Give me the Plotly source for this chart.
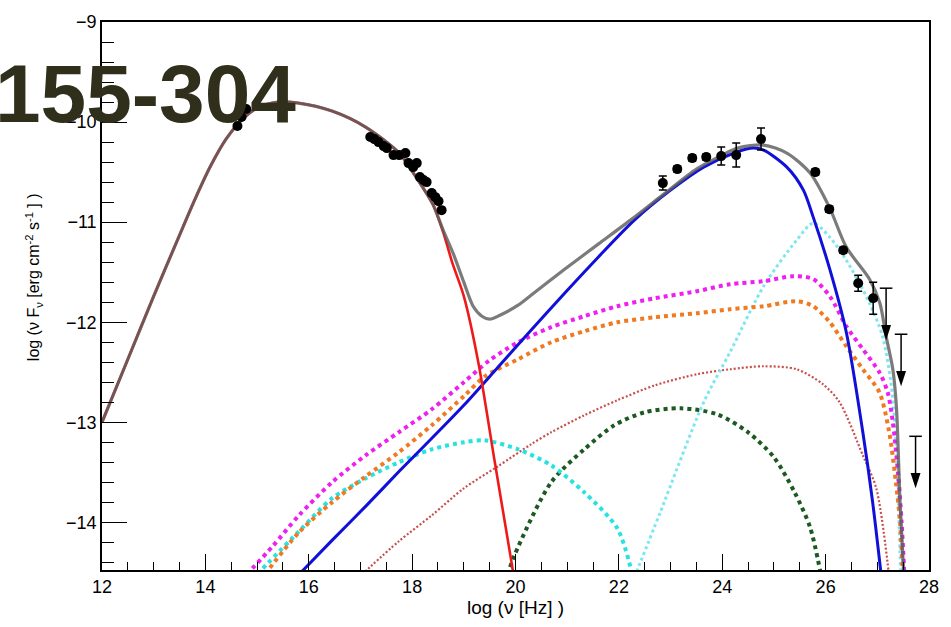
import plotly.graph_objects as go

# ---------------- data ----------------
# synchrotron component
sync_x = [12.0, 12.5, 13.0, 13.5, 13.8, 14.1, 14.4, 14.7, 15.0, 15.4, 15.8, 16.45, 17.1, 17.75,
          18.05, 18.4, 18.6, 18.78, 19.0, 19.28, 19.6, 19.92, 20.0]
sync_y = [-13.0, -12.37, -11.74, -11.13, -10.77, -10.44, -10.17, -9.98, -9.86, -9.80, -9.81, -9.89,
          -10.05, -10.31, -10.53, -10.82, -11.1, -11.41, -11.74, -12.40, -13.4, -14.39, -14.65]

# total model
total_x = [12.0, 12.5, 13.0, 13.5, 13.8, 14.1, 14.4, 14.7, 15.0, 15.4, 15.8, 16.45, 17.1, 17.75,
           18.05, 18.4, 18.6, 18.8, 19.0, 19.18, 19.35, 19.5, 19.7, 20.05, 20.3, 20.95, 21.6,
           22.25, 22.87, 23.5, 24.0, 24.3, 24.8, 25.25, 25.7, 26.08, 26.4, 26.85, 27.05, 27.17,
           27.3, 27.37, 27.44, 27.52]
total_y = [-13.0, -12.37, -11.74, -11.13, -10.77, -10.44, -10.17, -9.98, -9.86, -9.80, -9.81,
           -9.89, -10.05, -10.31, -10.53, -10.82, -11.08, -11.32, -11.6, -11.84, -11.94, -11.97,
           -11.93, -11.83, -11.73, -11.47, -11.22, -10.97, -10.72, -10.47, -10.33, -10.26, -10.23,
           -10.31, -10.51, -10.86, -11.25, -11.57, -11.81, -12.14, -12.47, -12.85, -13.8, -14.6]

# SSC component (blue)
ssc_x = [15.85, 16.45, 17.1, 17.75, 18.4, 19.0, 19.66, 20.3, 20.95, 21.6, 22.3, 23.0, 23.64,
         24.28, 24.6, 24.8, 25.25, 25.57, 25.76, 26.08, 26.4, 26.72, 26.91, 27.08]
ssc_y = [-14.5, -14.18, -13.84, -13.49, -13.15, -12.83, -12.45, -12.08, -11.71, -11.35, -10.98,
         -10.68, -10.45, -10.30, -10.26, -10.28, -10.45, -10.68, -10.95, -11.47, -12.1, -13.1,
         -13.80, -14.55]

# magenta dotted component
mag_x = [14.8, 15.3, 15.81, 16.45, 17.1, 17.74, 18.38, 19.0, 19.5, 20.05, 20.69, 21.33, 21.97,
         22.7, 23.51, 24.15, 24.8, 25.38, 25.76, 26.08, 26.4, 26.72, 27.04, 27.2, 27.3, 27.4,
         27.47, 27.53]
mag_y = [-14.52, -14.24, -13.93, -13.60, -13.33, -13.10, -12.87, -12.6, -12.38, -12.2, -12.05,
         -11.94, -11.84, -11.76, -11.69, -11.62, -11.59, -11.54, -11.57, -11.74, -12.04, -12.27,
         -12.5, -12.7, -13.0, -13.5, -14.0, -14.6]

# orange dotted component
org_x = [15.15, 15.81, 16.45, 17.1, 17.74, 18.38, 19.02, 19.41, 20.05, 20.69, 21.33, 21.97, 22.7,
         23.51, 24.15, 24.8, 25.44, 25.76, 26.08, 26.4, 26.72, 27.04, 27.23, 27.36, 27.44, 27.5]
org_y = [-14.52, -14.1, -13.80, -13.54, -13.30, -13.03, -12.73, -12.54, -12.37, -12.20, -12.09,
         -12.0, -11.95, -11.91, -11.87, -11.84, -11.79, -11.84, -12.0, -12.24, -12.47, -12.70,
         -13.1, -13.6, -14.0, -14.6]

# cyan dotted bump (low energy)
cyl_x = [15.0, 15.81, 16.45, 17.1, 17.74, 18.38, 19.0, 19.4, 20.05, 20.69, 21.33, 21.97, 22.25]
cyl_y = [-14.52, -14.09, -13.76, -13.56, -13.40, -13.27, -13.20, -13.18, -13.27, -13.43, -13.70,
         -14.06, -14.5]

# light cyan dotted component (high energy)
cyh_x = [22.3, 22.8, 23.64, 24.15, 24.8, 25.44, 25.76, 26.08, 26.4, 26.85, 27.1, 27.27, 27.36, 27.45]
cyh_y = [-14.55, -13.9, -12.80, -12.30, -11.64, -11.18, -11.01, -11.15, -11.38, -11.81, -12.14,
         -12.63, -13.2, -14.5]

# thin red-brown dotted component
brn_x = [17.03, 17.74, 18.38, 19.0, 19.66, 20.3, 20.69, 21.33, 21.97, 22.7, 23.51, 24.15, 24.8,
         25.44, 25.95, 26.27, 26.72, 26.98, 27.22]
brn_y = [-14.52, -14.19, -13.93, -13.66, -13.44, -13.22, -13.1, -12.93, -12.78, -12.63, -12.52,
         -12.47, -12.44, -12.47, -12.62, -12.80, -13.33, -13.66, -14.5]

# dark green dotted component
grn_x = [19.8, 19.98, 20.69, 21.33, 21.91, 22.5, 23.2, 23.9, 24.5, 25.0, 25.4, 25.7, 25.9]
grn_y = [-14.6, -14.33, -13.60, -13.27, -13.03, -12.9, -12.86, -12.92, -13.1, -13.35, -13.7,
         -14.05, -14.5]

# observed points
opt_x = [14.62, 14.70, 14.79]
opt_y = [-10.04, -9.95, -9.87]

xray_x = [17.19, 17.27, 17.35, 17.45, 17.51, 17.64, 17.75, 17.87, 17.93, 18.02, 18.09, 18.15,
          18.22, 18.28, 18.38, 18.45, 18.51, 18.57]
xray_y = [-10.15, -10.17, -10.20, -10.24, -10.26, -10.33, -10.33, -10.31, -10.41, -10.45, -10.41,
          -10.55, -10.58, -10.60, -10.71, -10.75, -10.79, -10.88]

fermi_x = [22.85, 23.13, 23.42, 23.69, 23.98, 24.27, 24.75]
fermi_y = [-10.61, -10.47, -10.36, -10.35, -10.34, -10.33, -10.17]
fermi_err = [0.07, 0.03, 0.03, 0.03, 0.09, 0.12, 0.11]

hess_x = [25.80, 26.07, 26.34, 26.63, 26.92]
hess_y = [-10.50, -10.87, -11.28, -11.61, -11.76]
hess_err = [0.03, 0.03, 0.03, 0.08, 0.16]

ul_x = [27.17, 27.46, 27.74]
ul_y = [-11.66, -12.12, -13.14]
UL_LEN = 0.52

x_ticks = [12, 14, 16, 18, 20, 22, 24, 26, 28]
y_ticks = [-14, -13, -12, -11, -10, -9]

FONT = "Liberation Sans, Arial, Helvetica, sans-serif"

fig = go.Figure()


def curve(x, y, color, width, dash="solid", opacity=1.0):
    fig.add_trace(go.Scatter(x=x, y=y, mode="lines", opacity=opacity,
                             line=dict(color=color, width=width, dash=dash,
                                       shape="spline", smoothing=0.8),
                             hoverinfo="skip", showlegend=False))


curve(brn_x, brn_y, "#c8504c", 2.2, "2px,2px")
curve(grn_x, grn_y, "#1d5a22", 4, "dot")
curve(cyl_x, cyl_y, "#28e2e2", 4, "dot")
curve(cyh_x, cyh_y, "#7ee6f0", 3, "dot")
curve(org_x, org_y, "#f07a22", 4, "dot")
curve(mag_x, mag_y, "#ee1ff0", 4, "dot")
curve(ssc_x, ssc_y, "#1010d8", 3)
curve(sync_x, sync_y, "#ee1a1a", 2.6)
curve(total_x, total_y, "#5f5f5f", 3.2, opacity=0.82)

# data points
marker = dict(color="black", size=10, symbol="circle")
fig.add_trace(go.Scatter(x=opt_x, y=opt_y, mode="markers", marker=marker, showlegend=False))
fig.add_trace(go.Scatter(x=xray_x, y=xray_y, mode="markers", marker=marker, showlegend=False))
fig.add_trace(go.Scatter(x=fermi_x, y=fermi_y, mode="markers", marker=marker, showlegend=False,
                         error_y=dict(type="data", array=fermi_err, color="black",
                                      thickness=1.5, width=4)))
fig.add_trace(go.Scatter(x=hess_x, y=hess_y, mode="markers", marker=marker, showlegend=False,
                         error_y=dict(type="data", array=hess_err, color="black",
                                      thickness=1.5, width=4)))

# upper limits: cap, shaft, arrow head
tip_y = [v - UL_LEN for v in ul_y]
shaft_x, shaft_y = [], []
for xv, yv, tv in zip(ul_x, ul_y, tip_y):
    shaft_x += [xv, xv, None]
    shaft_y += [yv, tv + 0.05, None]
fig.add_trace(go.Scatter(x=shaft_x, y=shaft_y, mode="lines",
                         line=dict(color="black", width=1.5), showlegend=False))
fig.add_trace(go.Scatter(x=ul_x, y=ul_y, mode="markers",
                         marker=dict(symbol="line-ew", size=9,
                                     line=dict(color="black", width=1.5)),
                         showlegend=False))
fig.add_trace(go.Scatter(x=ul_x, y=tip_y, mode="markers",
                         marker=dict(symbol="arrow", angle=180, size=16, color="black"),
                         showlegend=False))

axis_common = dict(showgrid=False, zeroline=False, showline=True, linecolor="black",
                   linewidth=1.5, mirror=True, ticks="inside", tickcolor="black",
                   tickwidth=1.2, tickfont=dict(family=FONT, size=18, color="black"))

fig.update_xaxes(range=[12, 28], tickvals=x_ticks, ticklen=16,
                 minor=dict(dtick=0.5, tick0=12, ticks="inside", ticklen=8,
                            tickcolor="black", tickwidth=1.2),
                 title=dict(text="log (ν [Hz] )", font=dict(family=FONT, size=19, color="black"),
                            standoff=2),
                 **axis_common)
fig.update_yaxes(range=[-14.476, -9], tickvals=y_ticks, ticklen=25,
                 minor=dict(dtick=0.2, tick0=-9, ticks="inside", ticklen=12,
                            tickcolor="black", tickwidth=1.2),
                 **axis_common)

# y-axis title (placed as in the reference, slightly above the axis centre)
fig.add_annotation(text="log (ν F<sub>ν</sub> [erg cm<sup>-2</sup> s<sup>-1</sup> ] )",
                   xref="paper", yref="paper", x=-0.083, y=0.535, textangle=-90,
                   xanchor="center", yanchor="middle", showarrow=False,
                   font=dict(family=FONT, size=16, color="black"))

fig.add_annotation(text="<b>155-304</b>", xref="paper", yref="paper",
                   x=0.236, y=0.869, xanchor="right", yanchor="middle", showarrow=False,
                   borderpad=0, font=dict(family=FONT, size=82, color="#2f2f1c"))

fig.update_layout(width=951, height=627, margin=dict(l=102, r=18, t=18, b=57),
                  paper_bgcolor="white", plot_bgcolor="white",
                  font=dict(family=FONT, color="black"), showlegend=False)

fig.write_html("out.html")
